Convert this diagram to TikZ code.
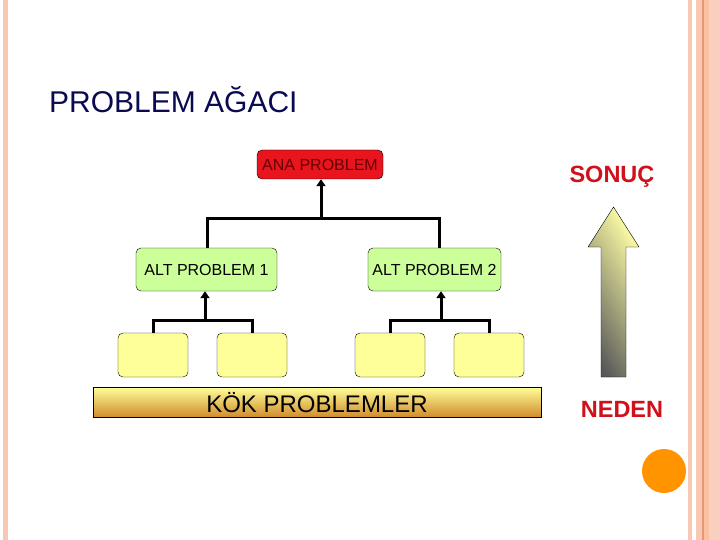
\documentclass[tikz,border=0pt]{standalone}
\usepackage{fontspec}
\setmainfont{Liberation Sans}
\usetikzlibrary{arrows.meta}
\definecolor{navy}{HTML}{0A0A50}
\definecolor{salmon}{HTML}{F8C8B4}
\definecolor{salmonD}{HTML}{E89870}
\definecolor{redbox}{HTML}{E8141E}
\definecolor{greenbox}{HTML}{CCFF99}
\definecolor{yellowbox}{HTML}{FFFF99}
\definecolor{redtxt}{HTML}{D0101A}
\begin{document}
\begin{tikzpicture}[x=1pt,y=-1pt,
  box/.style={draw=black,rounded corners=5pt,inner sep=0pt},
  conn/.style={line width=3pt},
  arr/.style={line width=3pt,-{Triangle[length=7pt,width=9pt]}},
  lab/.style={font=\fontsize{16}{18}\selectfont},
  side/.style={font=\fontsize{23.5}{26}\selectfont\bfseries,text=redtxt}]
\useasboundingbox (0,0) rectangle (720,540);
\fill[white] (0,0) rectangle (720,540);
% decorative bands
\fill[salmon] (3,0) rectangle (8,540);
\fill[salmon] (688,0) rectangle (692,540);
\fill[salmon] (696,0) rectangle (702,540);
\fill[salmonD] (702,0) rectangle (703.5,540);
\fill[salmon!90!orange] (703.5,0) rectangle (709,540);
\fill[salmon!85!white] (709,0) rectangle (720,540);
% title
\node[anchor=base west,inner sep=0pt,font=\fontsize{30}{34}\selectfont,text=navy] (title) at (49,113) {PROBLEM AĞACI};
% boxes
\node[box,fill=redbox,minimum width=126pt,minimum height=29pt,lab,text=black!60!red] (ana) at (320,164.5) {ANA PROBLEM};
\node[box,fill=greenbox,minimum width=141pt,minimum height=43pt,lab] (alt1) at (206.5,269.5) {ALT PROBLEM 1};
\node[box,fill=greenbox,minimum width=133pt,minimum height=43pt,lab] (alt2) at (434.5,269.5) {ALT PROBLEM 2};
\node[box,fill=yellowbox,minimum width=70pt,minimum height=44pt] (y1) at (153,355) {};
\node[box,fill=yellowbox,minimum width=70pt,minimum height=44pt] (y2) at (252,355) {};
\node[box,fill=yellowbox,minimum width=70pt,minimum height=44pt] (y3) at (390,355) {};
\node[box,fill=yellowbox,minimum width=70pt,minimum height=44pt] (y4) at (489,355) {};
% connectors
\coordinate (j0) at (321,219);
\coordinate (j1) at (205,320);
\coordinate (j2) at (441,320);
\draw[conn] (alt1.north -| 207,0) -- (207,219) -- (439,219) -- (alt2.north -| 439,0);
\draw[arr] (j0) -- (ana.south -| j0);
\draw[conn] (y1.north) -- (y1.north |- j1) -- (y2.north |- j1) -- (y2.north);
\draw[arr] (j1) -- (alt1.south -| j1);
\draw[conn] (y3.north) -- (y3.north |- j2) -- (y4.north |- j2) -- (y4.north);
\draw[arr] (j2) -- (alt2.south -| j2);
% root band
\shade[top color=yellow!40!white,bottom color=brown!80!orange!90!yellow,draw=black] (93,387) rectangle (541,417);
\node[font=\fontsize{24}{28}\selectfont] (kok) at (317,403) {KÖK PROBLEMLER};
% side arrow
\shade[left color=yellow!35!white,right color=black!65,draw=black,shading angle=-60]
  (601,377) -- (601,247) -- (588,247) -- (613.5,207) -- (639,247) -- (626,247) -- (626,377) -- cycle;
\node[side] (sonuc) at (612,177) {SONUÇ};
\node[side] (neden) at (622,409) {NEDEN};
\fill[orange!80!red!70!yellow] (664,471) circle (22);
\end{tikzpicture}
\end{document}
